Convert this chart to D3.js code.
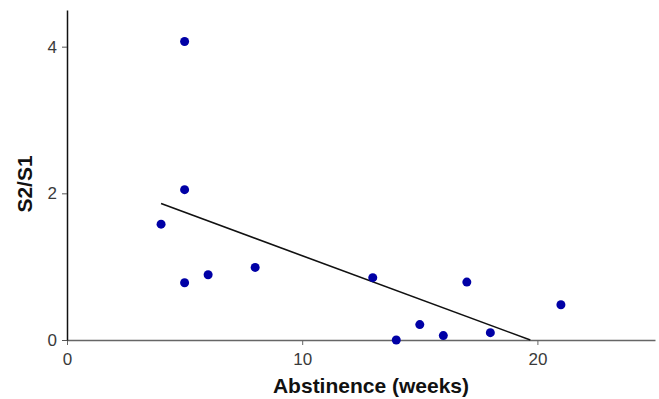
<!DOCTYPE html>
<html>
<head>
<meta charset="utf-8">
<script src="https://cdn.jsdelivr.net/npm/d3@7"></script>
<style>
  body { margin: 0; background: #fff; }
  text { font-family: "Liberation Sans", Arial, sans-serif; }
</style>
</head>
<body>
<div id="chart"></div>
<script>
// Scatter data: abstinence (weeks) vs S2/S1
const abstinenceWeeks = [5, 5, 4, 5, 6, 8, 13, 14, 15, 16, 17, 18, 21];
const ratioS2S1 = [4.07, 2.05, 1.58, 0.78, 0.89, 0.99, 0.85, 0.0, 0.21, 0.06, 0.79, 0.10, 0.48];
// Trend line endpoints
const trendX = [4, 19.7];
const trendY = [1.86, 0];
const xTicks = [0, 10, 20];
const yTicks = [0, 2, 4];

const width = 659, height = 399;
const margin = {top: 10, right: 4, bottom: 59, left: 67};

const svg = d3.select("#chart").append("svg")
  .attr("width", width)
  .attr("height", height);

const xScale = d3.scaleLinear()
  .domain([0, 25])
  .range([margin.left, width - margin.right]);
const yScale = d3.scaleLinear()
  .domain([0, 4.5])
  .range([height - margin.bottom, margin.top]);

// x-axis
const xAxis = svg.append("g")
  .attr("transform", "translate(0," + yScale(0) + ")")
  .call(d3.axisBottom(xScale).tickValues(xTicks).tickFormat(d3.format("d"))
    .tickSize(5).tickSizeOuter(0).tickPadding(8));
xAxis.select(".domain").attr("stroke", "#666").attr("stroke-width", 1.3);
xAxis.selectAll(".tick line").attr("stroke", "#666");
xAxis.selectAll(".tick text").attr("fill", "#3a3a3a").style("font-size", "17px");

// y-axis
const yAxis = svg.append("g")
  .attr("transform", "translate(" + xScale(0) + ",0)")
  .call(d3.axisLeft(yScale).tickValues(yTicks).tickFormat(d3.format("d"))
    .tickSize(5).tickSizeOuter(0).tickPadding(5));
yAxis.select(".domain").attr("stroke", "#111").attr("stroke-width", 1.5);
yAxis.selectAll(".tick line").attr("stroke", "#555");
yAxis.selectAll(".tick text").attr("fill", "#3a3a3a").style("font-size", "17px");

// axis labels
svg.append("text")
  .attr("x", 371)
  .attr("y", 393)
  .attr("text-anchor", "middle")
  .style("font-size", "21px")
  .style("font-weight", "bold")
  .attr("fill", "#111")
  .text("Abstinence (weeks)");

svg.append("text")
  .attr("transform", "translate(32,184) rotate(-90)")
  .attr("text-anchor", "middle")
  .style("font-size", "21px")
  .style("font-weight", "bold")
  .attr("fill", "#111")
  .text("S2/S1");

// trend line
const line = d3.line()
  .x(d => xScale(d[0]))
  .y(d => yScale(d[1]));
svg.append("path")
  .attr("d", line(d3.zip(trendX, trendY)))
  .attr("fill", "none")
  .attr("stroke", "#111")
  .attr("stroke-width", 1.6);

// points
svg.append("g").selectAll("circle")
  .data(d3.zip(abstinenceWeeks, ratioS2S1))
  .join("circle")
  .attr("cx", d => xScale(d[0]))
  .attr("cy", d => yScale(d[1]))
  .attr("r", 4.5)
  .attr("fill", "#0000a6");
</script>
</body>
</html>
